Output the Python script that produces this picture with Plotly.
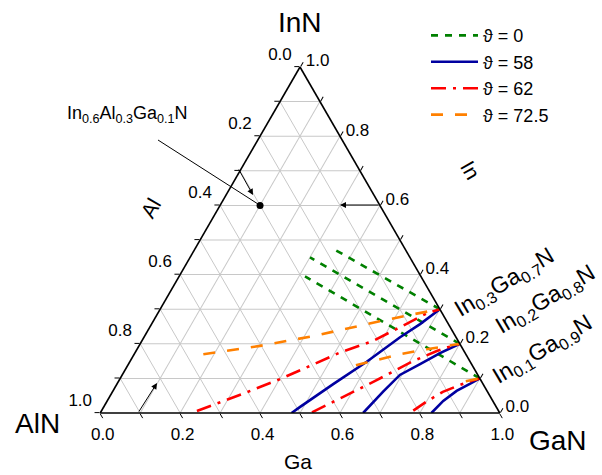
import plotly.graph_objects as go

# ---------------- data (ternary fractions: In, Al, Ga) ----------------
# theta = 0 (green dotted), three straight lines
g_in = [[0.30, 0.475], [0.20, 0.45], [0.10, 0.395]]
g_al = [[0.00, 0.18], [0.00, 0.25], [0.00, 0.29]]
g_ga = [[0.70, 0.345], [0.80, 0.30], [0.90, 0.315]]

# theta = 58 (blue solid)
b_in = [[0.0, 0.017, 0.084, 0.148, 0.219, 0.257, 0.30],
        [0.0, 0.061, 0.110, 0.141, 0.173, 0.20],
        [0.0, 0.035, 0.064, 0.084, 0.10]]
b_ga = [[0.479, 0.491, 0.542, 0.593, 0.641, 0.672, 0.70],
        [0.658, 0.677, 0.695, 0.730, 0.764, 0.80],
        [0.829, 0.841, 0.860, 0.883, 0.90]]
b_al = [[0.521, 0.492, 0.374, 0.259, 0.140, 0.071, 0.0],
        [0.342, 0.262, 0.195, 0.129, 0.063, 0.0],
        [0.171, 0.124, 0.076, 0.033, 0.0]]

# theta = 62 (red dash-dot)
r_in = [[0.006, 0.060, 0.098, 0.136, 0.175, 0.208, 0.257, 0.288, 0.30],
        [0.002, 0.046, 0.092, 0.150, 0.179, 0.190, 0.20],
        [0.007, 0.035, 0.061, 0.079, 0.093, 0.10]]
r_ga = [[0.239, 0.337, 0.401, 0.457, 0.513, 0.578, 0.637, 0.673, 0.70],
        [0.529, 0.584, 0.641, 0.708, 0.753, 0.775, 0.80],
        [0.780, 0.802, 0.827, 0.856, 0.883, 0.90]]
r_al = [[0.755, 0.603, 0.501, 0.407, 0.312, 0.214, 0.106, 0.039, 0.0],
        [0.469, 0.370, 0.267, 0.142, 0.068, 0.035, 0.0],
        [0.213, 0.163, 0.112, 0.065, 0.024, 0.0]]

# theta = 72.5 (orange dashed)
o_in = [[0.170, 0.194, 0.222, 0.265, 0.285, 0.30],
        [0.138, 0.170, 0.184, 0.20],
        [0.092, 0.10]]
o_ga = [[0.173, 0.303, 0.421, 0.567, 0.640, 0.70],
        [0.571, 0.665, 0.725, 0.80],
        [0.869, 0.90]]
o_al = [[0.657, 0.503, 0.357, 0.168, 0.075, 0.0],
        [0.291, 0.165, 0.091, 0.0],
        [0.039, 0.0]]

# marked composition In0.6 Al0.3 Ga0.1 N
pt_in, pt_al, pt_ga = [0.6], [0.3], [0.1]

tick_vals = [0.0, 0.1, 0.2, 0.3, 0.4, 0.5, 0.6, 0.7, 0.8, 0.9, 1.0]
tick_text = ["1.0", "", "0.8", "", "0.6", "", "0.4", "", "0.2", "", "0.0"]

series = [
    ("\u03d1 = 0", "#008000", "7px,7px", g_in, g_al, g_ga),
    ("\u03d1 = 58", "#0000a0", "solid", b_in, b_al, b_ga),
    ("\u03d1 = 62", "#ff0000", "15px,7px,3px,7px", r_in, r_al, r_ga),
    ("\u03d1 = 72.5", "#ff8000", "12px,12px", o_in, o_al, o_ga),
]

FONT = "Liberation Sans, Arial, sans-serif"

fig = go.Figure()
for name, color, dash, a_list, b_list, c_list in series:
    for i in range(len(a_list)):
        fig.add_trace(go.Scatterternary(
            a=a_list[i], b=b_list[i], c=c_list[i], mode="lines",
            line=dict(color=color, width=2.6, dash=dash),
            name=name, legendgroup=name, showlegend=(i == 0),
            hoverinfo="skip"))

fig.add_trace(go.Scatterternary(
    a=pt_in, b=pt_al, c=pt_ga, mode="markers",
    marker=dict(color="black", size=7), showlegend=False, hoverinfo="skip"))

axis_common = dict(
    tickmode="array", tickvals=tick_vals,
    ticks="outside", ticklen=5, tickwidth=1, tickcolor="black",
    showline=True, linecolor="black", linewidth=1.6,
    showgrid=True, gridcolor="#c8c8c8", gridwidth=0.8,
    tickfont=dict(size=17, color="black", family=FONT),
    title=dict(text=""), min=0,
)
# left-edge labels sit slightly above their ticks in the reference
a_ticktext = [t + "<br> " if t else "" for t in tick_text]

fig.update_layout(
    width=602, height=475,
    margin=dict(l=100, r=102, t=67, b=62),
    paper_bgcolor="white",
    font=dict(family=FONT, color="black"),
    ternary=dict(
        sum=1, bgcolor="white",
        aaxis=dict(axis_common, ticktext=a_ticktext),
        baxis=dict(axis_common, ticktext=tick_text),
        caxis=dict(axis_common, ticktext=tick_text),
    ),
    legend=dict(
        x=0.815, y=1.144, xanchor="left", yanchor="top",
        font=dict(size=18, family=FONT, color="black"),
        itemwidth=47, tracegroupgap=0, bgcolor="rgba(0,0,0,0)",
    ),
)


def px(x):
    return (x - 100) / 400.0


def py(y):
    return (413 - y) / 346.0


anns = [
    dict(text="InN", x=px(300), y=py(22), size=28, angle=0),
    dict(text="AlN", x=px(37), y=py(423), size=28, angle=0),
    dict(text="GaN", x=px(558), y=py(440), size=28, angle=0),
    dict(text="Ga", x=px(298), y=py(461), size=21, angle=0),
    dict(text="Al", x=px(150), y=py(208), size=21, angle=-60),
    dict(text="In", x=px(471), y=py(170), size=21, angle=60),
    dict(text="In<sub>0.3</sub>Ga<sub>0.7</sub>N", x=px(504), y=py(283), size=23, angle=-31),
    dict(text="In<sub>0.2</sub>Ga<sub>0.8</sub>N", x=px(545), y=py(300), size=23, angle=-31),
    dict(text="In<sub>0.1</sub>Ga<sub>0.9</sub>N", x=px(542), y=py(350), size=23, angle=-31),
    dict(text="In<sub>0.6</sub>Al<sub>0.3</sub>Ga<sub>0.1</sub>N", x=px(127), y=py(114), size=18, angle=0),
]
for a in anns:
    fig.add_annotation(text=a["text"], x=a["x"], y=a["y"], xref="paper", yref="paper",
                       xanchor="center", yanchor="middle", showarrow=False,
                       textangle=a["angle"], font=dict(size=a["size"], family=FONT, color="black"))

# connector from label to the marked point
fig.add_shape(type="line", xref="paper", yref="paper",
              x0=px(158), y0=py(140), x1=px(258), y1=py(204),
              line=dict(color="black", width=1))

# reading-direction arrows
arrows = [
    (px(253), py(195), -15, -27),
    (px(340), py(205), 40, 0),
    (px(157), py(383), -19, 30),
]
for hx, hy, axp, ayp in arrows:
    fig.add_annotation(x=hx, y=hy, xref="paper", yref="paper", text="",
                       showarrow=True, ax=axp, ay=ayp, arrowhead=2,
                       arrowsize=1.2, arrowwidth=1, arrowcolor="black")

fig.write_html("out.html", config={"displayModeBar": False},
               post_script="document.body.style.margin='0px';")
